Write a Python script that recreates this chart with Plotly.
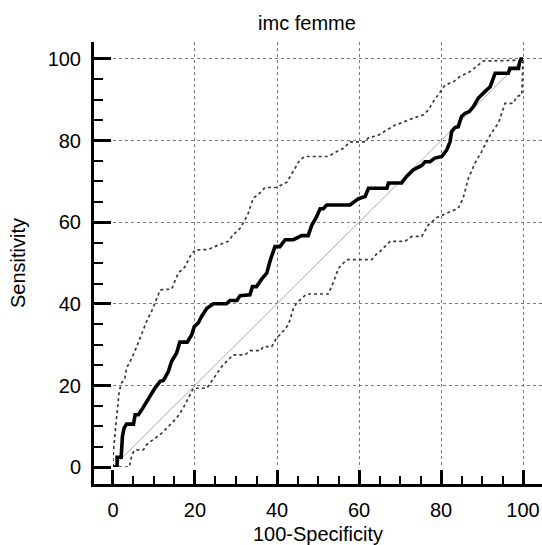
import plotly.graph_objects as go

# ---------------- data ----------------
roc_fpr = [0, 1, 1, 2, 2.3, 2.7, 3.3, 5.0, 5.4, 6.2, 7.0, 8.2, 9.0, 10.2, 11.5, 12.3, 13.5, 14.3,
           15.5, 16.3, 18.1, 19.2, 19.8, 20.8, 21.6, 22.9, 24.5, 27.7, 28.5, 30.2, 31.0, 33.4,
           34.0, 35.0, 36.3, 37.5, 38.3, 39.0, 39.5, 40.7, 42.0, 44.0, 46.0, 47.6, 48.5, 49.7,
           50.5, 51.3, 52.1, 57.8, 59.8, 61.5, 62.3, 66.8, 67.2, 70.4, 71.6, 73.2, 75.3, 76.1,
           77.3, 78.5, 80.2, 81.4, 82.2, 82.6, 83.4, 84.2, 85.0, 85.9, 86.9, 87.9, 89.1, 90.7,
           92.0, 93.2, 96.4, 96.8, 98.9, 99.1, 99.5, 100]
roc_tpr = [0, 0, 2.4, 2.4, 7.5, 9.5, 10.5, 10.5, 12.8, 12.8, 14.0, 16.0, 17.3, 19.3, 21.0, 21.2, 23.4, 25.9,
           27.9, 30.6, 30.6, 32.4, 34.4, 35.3, 36.9, 38.9, 40.0, 40.0, 40.8, 40.8, 42.0, 42.2,
           44.2, 44.2, 46.1, 47.5, 50.5, 52.4, 54.0, 54.0, 55.7, 55.7, 56.7, 56.7, 59.3, 61.4,
           63.3, 63.3, 64.2, 64.2, 65.7, 66.3, 68.3, 68.3, 69.6, 69.6, 71.2, 72.8, 73.9, 74.8,
           74.8, 75.7, 76.1, 77.7, 79.7, 82.2, 83.2, 83.4, 85.9, 86.7, 87.1, 88.3, 90.4, 92.0,
           93.2, 96.5, 96.5, 97.7, 97.7, 98.9, 100, 100]

upper_fpr = [0, 0, 0.2, 0.5, 1.0, 1.5, 2.1, 2.9, 3.3, 4.6, 5.8, 7.0, 8.2, 9.4, 10.7, 11.5, 14.3,
             15.9, 17.6, 18.8, 20.0, 23.2, 25.7, 28.1, 29.3, 31.0, 32.2, 33.0, 34.2, 35.4, 37.1,
             39.9, 42.4, 44.0, 45.6, 46.8, 52.5, 54.6, 56.2, 57.8, 61.5, 62.3, 64.5, 66.8, 68.8,
             70.8, 73.2, 75.7, 76.9, 78.1, 79.3, 81.0, 83.0, 84.6, 87.1, 88.7, 90.3, 99.7, 100]
upper_tpr = [0, 2.2, 5.0, 8.3, 14.4, 18.5, 20.6, 21.8, 24.2, 26.7, 29.5, 32.4, 35.7, 38.1, 41.4, 43.4, 43.6,
             47.5, 49.1, 51.6, 53.2, 53.3, 54.4, 55.3, 56.9, 58.5, 60.6, 62.2, 65.9, 66.7, 68.5,
             68.5, 69.8, 72.4, 75.3, 76.1, 76.1, 77.3, 78.1, 79.7, 79.7, 80.7, 81.2, 82.6, 83.8,
             84.5, 85.5, 86.3, 87.5, 89.5, 91.2, 93.6, 94.4, 95.7, 96.9, 98.1, 99.5, 99.7, 100]

lower_fpr = [0, 4.0, 4.6, 5.4, 7.4, 8.2, 9.8, 11.9, 13.5, 15.5, 17.1, 18.8, 19.6, 22.9, 24.5, 26.5,
             27.7, 29.3, 32.2, 33.4, 36.0, 36.6, 38.7, 39.9, 41.1, 42.8, 44.0, 44.8, 47.2, 52.5,
             53.7, 55.0, 57.0, 63.1, 64.3, 65.1, 67.6, 71.2, 72.9, 75.3, 76.9, 78.9, 81.4, 84.2,
             85.4, 86.7, 88.3, 89.9, 92.0, 94.0, 95.6, 97.6, 98.5, 99.7, 100]
lower_tpr = [0, 0, 3.0, 4.2, 4.2, 5.5, 6.7, 8.3, 9.9, 12.0, 14.4, 17.7, 19.3, 19.3, 21.8, 24.6,
             25.9, 27.5, 27.5, 28.5, 28.5, 29.5, 29.5, 31.6, 32.8, 34.9, 38.9, 40.2, 42.4, 42.4,
             45.1, 48.7, 50.8, 50.8, 52.2, 52.8, 55.3, 55.3, 56.5, 56.5, 59.3, 61.1, 62.2, 63.4,
             65.9, 70.8, 74.5, 77.3, 81.4, 84.3, 89.1, 89.1, 90.8, 91.2, 100]

diag_vals = [0, 100]
tick_vals = [0, 20, 40, 60, 80, 100]
tick_text = ["0", "20", "40", "60", "80", "100"]

title_text = "imc femme"
x_title = "100-Specificity"
y_title = "Sensitivity"

FONT = "Liberation Sans, Arial, sans-serif"

fig = go.Figure()
fig.add_trace(go.Scatter(x=diag_vals, y=diag_vals, mode="lines",
                         line=dict(color="#a8a8a8", width=1), hoverinfo="skip"))
fig.add_trace(go.Scatter(x=upper_fpr, y=upper_tpr, mode="lines",
                         line=dict(color="#3a3a3a", width=1.7, dash="dot")))
fig.add_trace(go.Scatter(x=lower_fpr, y=lower_tpr, mode="lines",
                         line=dict(color="#3a3a3a", width=1.7, dash="dot")))
fig.add_trace(go.Scatter(x=roc_fpr, y=roc_tpr, mode="lines",
                         line=dict(color="black", width=3.6)))
# helper (empty) trace so the detached axis frame is drawn
fig.add_trace(go.Scatter(x=[None], y=[None], xaxis="x2", yaxis="y2", hoverinfo="skip"))

grid_common = dict(showgrid=True, gridcolor="#7a7a7a", gridwidth=1, griddash="dot",
                   zeroline=False, showline=False, ticks="", showticklabels=False,
                   tickmode="array", tickvals=tick_vals, automargin=False, fixedrange=True)

axis_common = dict(showgrid=False, zeroline=False, showline=True, linecolor="black", linewidth=3,
                   ticks="inside", tickwidth=3, tickcolor="black",
                   tickmode="array", tickvals=tick_vals, ticktext=tick_text,
                   tickfont=dict(family=FONT, size=20, color="black"),
                   automargin=False, fixedrange=True)

W, H = 542, 545

fig.update_layout(
    width=W, height=H,
    margin=dict(l=94, r=0, t=42, b=61),
    paper_bgcolor="white", plot_bgcolor="rgba(0,0,0,0)",
    showlegend=False,
    title=dict(text=title_text, x=307 / W, xref="container", xanchor="center",
               y=1 - 23 / H, yref="container", yanchor="middle",
               font=dict(family=FONT, size=20, color="black")),
    xaxis=dict(domain=[0.0424, 1], range=[0, 104.63], anchor="y", **grid_common),
    yaxis=dict(domain=[0.0385, 1], range=[0, 104.16], anchor="x", **grid_common),
    xaxis2=dict(domain=[0, 1], range=[-4.63, 104.63], anchor="y2", ticklen=14,
                ticklabelstandoff=6,
                minor=dict(ticks="inside", ticklen=8, tickwidth=2, tickcolor="black",
                           tickmode="linear", tick0=0, dtick=5, showgrid=False),
                title=dict(text=x_title, standoff=9,
                           font=dict(family=FONT, size=20, color="black")),
                **axis_common),
    yaxis2=dict(domain=[0, 1], range=[-4.09, 104.16], anchor="x2", ticklen=17,
                ticklabelstandoff=6,
                minor=dict(ticks="inside", ticklen=9, tickwidth=2, tickcolor="black",
                           tickmode="linear", tick0=0, dtick=5, showgrid=False),
                title=dict(text=y_title, standoff=17,
                           font=dict(family=FONT, size=20, color="black")),
                **axis_common),
)

# remove the default 8px page margin so the figure fills the window exactly
fig.write_html("out.html",
               config={"displayModeBar": False, "staticPlot": True},
               post_script="document.body.style.margin='0';document.body.style.overflow='hidden';")
